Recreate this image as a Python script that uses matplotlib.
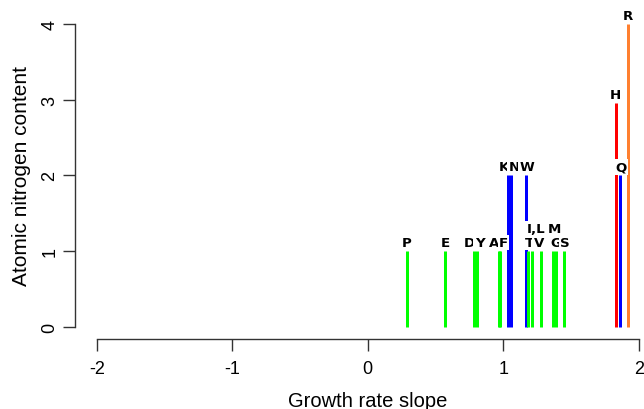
import matplotlib
matplotlib.use("Agg")
import matplotlib.pyplot as plt

# ---- data ----
amino_acids = ['P', 'E', 'D', 'Y', 'A', 'F', 'K', 'N', 'W', 'T', 'I,L', 'V', 'M', 'G', 'S', 'H', 'Q', 'R']
growth_slope = [0.288, 0.573, 0.786, 0.803, 0.966, 0.978, 1.034, 1.054, 1.165, 1.184,
                1.209, 1.275, 1.366, 1.390, 1.450, 1.830, 1.860, 1.923]
nitrogen = [1, 1, 1, 1, 1, 1, 2, 2, 2, 1, 1, 1, 1, 1, 1, 2.96, 2, 4]
x_ticks = [-2, -1, 0, 1, 2]
y_ticks = [0, 1, 2, 3, 4]

# ---- styling ----
color_by_n = {1: '#00FF00', 2: '#0000FF', 3: '#FF0000', 4: '#FF8030'}
# label nudges (pixels) to avoid overlapping text
label_nudge = {'D': (-4.5, 0), 'Y': (2.9, 0), 'A': (-4.6, 0), 'F': (3.3, 0),
               'K': (-3.7, 0), 'N': (3.4, 0), 'W': (1.4, 0), 'T': (1.5, 0),
               'I,L': (4.5, 14), 'V': (-1.5, 0), 'M': (1.1, 14), 'S': (1.0, 0),
               'Q': (1.6, 0)}

DPI = 100
fig = plt.figure(figsize=(6.44, 4.10), dpi=DPI)
ax = fig.add_axes([75.2 / 644, (410 - 339.7) / 410, 585.2 / 644, (339.7 - 12.9) / 410])
ax.set_xlim(-2.16, 2.16)
ax.set_ylim(-0.16, 4.16)

px = 72.0 / DPI  # points per pixel

for name, xv, yv in zip(amino_acids, growth_slope, nitrogen):
    c = color_by_n[int(round(yv))]
    ax.vlines(xv, 0, yv, colors=c, linewidth=3 * px, capstyle='butt', zorder=2)
    dx, dy = label_nudge.get(name, (0, 0))
    ax.annotate(name, (xv, yv), xytext=(dx * px, (5 + dy) * px), textcoords='offset points',
                ha='center', va='baseline', fontsize=9.6, fontweight='bold',
                family='DejaVu Sans', color='black', zorder=5,
                bbox=dict(facecolor='white', edgecolor='none', pad=1.0))

for s in ['top', 'right']:
    ax.spines[s].set_visible(False)
ax.spines['left'].set_bounds(0, 4)
ax.spines['bottom'].set_bounds(-2, 2)
for s in ['left', 'bottom']:
    ax.spines[s].set_color('#333333')
    ax.spines[s].set_linewidth(1.0)

ax.set_xticks(x_ticks)
ax.set_xticklabels([str(t) for t in x_ticks])
ax.set_yticks(y_ticks)
ax.set_yticklabels([str(t) for t in y_ticks], rotation=90, va='center')
ax.tick_params(axis='both', direction='out', length=12 * px, width=1.0, color='#333333',
               labelsize=13, labelcolor='black')
ax.tick_params(axis='x', pad=9 * px)
ax.tick_params(axis='y', pad=5 * px)
for lab in ax.get_xticklabels() + ax.get_yticklabels():
    lab.set_family('Liberation Sans')

ax.set_xlabel('Growth rate slope', fontsize=14.5, family='Liberation Sans', labelpad=10)
ax.set_ylabel('Atomic nitrogen content', fontsize=15, family='Liberation Sans', labelpad=7)

fig.savefig('out.png', dpi=DPI)
